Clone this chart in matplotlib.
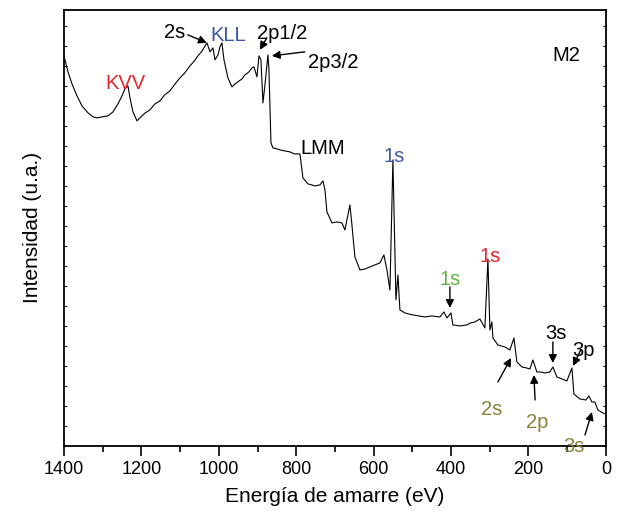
import numpy as np
import matplotlib
matplotlib.use("Agg")
import matplotlib.pyplot as plt
from matplotlib.ticker import MultipleLocator

plt.rcParams['font.family'] = ['Liberation Sans', 'DejaVu Sans']

# XPS survey spectrum M2 (binding energy in eV, intensity in arbitrary units)
energy = [1400.0, 1397.4, 1389.7, 1379.3, 1366.4, 1353.5, 1338.0, 1325.1, 1314.8, 1301.8,
          1286.3, 1273.4, 1260.5, 1250.2, 1242.4, 1234.7, 1229.5, 1221.8, 1211.4, 1198.5,
          1190.0, 1177.9, 1165.0, 1152.0, 1140.0, 1126.2, 1113.0, 1100.4, 1088.0, 1074.5,
          1063.0, 1053.9, 1045.0, 1038.4, 1030.6, 1022.9, 1015.1,
          1009.9, 1002.2, 997.0, 991.9, 986.7, 976.4, 966.1, 958.0, 950.6, 940.0, 932.5, 922.0, 914.4,
          909.2, 901.5, 896.3, 891.2, 886.0, 880.8, 873.1, 870.5, 865.3, 860.2,
          850.0, 842.1, 830.0, 816.2, 805.0, 795.6, 790.4, 782.7, 769.7, 760.0, 751.7, 738.7, 731.0, 725.8,
          720.7, 707.7, 695.0, 681.9, 674.2, 661.3, 656.1, 648.4, 635.4, 622.0, 609.6, 597.0, 583.8,
          573.4, 565.7, 557.9, 550.2, 542.4, 537.3, 532.1, 519.2, 510.0, 498.5, 483.0, 467.5, 450.0,
          428.8, 418.5, 410.7, 400.4, 395.2, 377.1, 359.1, 350.0, 338.4, 325.5, 312.6,
          304.8, 299.6, 294.5, 291.9, 279.0, 260.9, 248.0, 237.6, 229.9, 217.0,
          205.0, 196.3, 188.6, 178.3, 168.0, 157.6, 144.7, 136.9, 126.6, 113.7, 100.8, 87.8,
          82.7, 67.2, 51.7, 43.9, 36.2, 28.5, 20.7, 7.8, 0.0]
intensity = [389, 386, 374, 362, 350, 340, 333, 329, 328, 329,
             330, 334, 342, 350, 357, 360, 348, 334, 325, 330,
             333, 336, 342, 345, 351, 355, 362, 368, 373, 380,
             385, 390, 394, 398, 403, 394, 398,
             386, 391, 399, 403, 386, 368, 359, 362, 364, 367, 371, 374, 378,
             379, 369, 390, 386, 343, 361, 391, 376, 303, 298,
             297, 296, 295, 294, 292, 292, 292, 268, 262, 261, 260, 261, 265, 256,
             234, 223, 224, 223, 216, 241, 221, 189, 176, 177, 179, 181, 183,
             191, 176, 156, 286, 146, 171, 136, 133, 132, 131, 130, 129, 130,
             129, 134, 128, 133, 121, 120, 121, 123, 124, 127, 118,
             187, 116, 124, 108, 101, 99, 96, 108, 84, 79,
             78, 77, 86, 74, 74, 73, 74, 79, 69, 67, 65, 78,
             52, 47, 46, 50, 44, 44, 36, 33, 32]

# peak labels: text, x, y, colour
labels = [("KVV", 1240, 362, '#e8262d'),
          ("2s", 1113, 413, 'black'),
          ("KLL", 976, 410, '#3b56a6'),
          ("2p1/2", 837, 412, 'black'),
          ("2p3/2", 705, 383, 'black'),
          ("LMM", 731, 297, 'black'),
          ("1s", 548, 289, '#3b56a6'),
          ("1s", 403, 166, '#5db346'),
          ("1s", 300, 189, '#e8262d'),
          ("3s", 129, 112, 'black'),
          ("3p", 57, 95, 'black'),
          ("2s", 294, 36, '#85843a'),
          ("2p", 178, 23, '#85843a'),
          ("3s", 83, -1, '#85843a'),
          ("M2", 101, 390, 'black')]

# arrows: tail (x, y) -> head (x, y)
arrows = [((1080, 411), (1031, 403)),
          ((876, 408), (894, 396)),
          ((778, 394), (863, 390)),
          ((403, 159), (403, 138)),
          ((137, 104), (137, 83)),
          ((65, 96), (85, 80)),
          ((279, 64), (245, 88)),
          ((183, 46), (186, 71)),
          ((54, 11), (36, 34))]

fig = plt.figure(figsize=(6.17, 5.18), dpi=100)
ax = fig.add_axes([0.1037, 0.139, 0.8783, 0.842])

ax.plot(energy, intensity, color='black', lw=0.8)

for txt, x, y, c in labels:
    ax.text(x, y, txt, color=c, fontsize=14.5, ha='center', va='center', clip_on=False)

for tail, head in arrows:
    ax.annotate('', xy=head, xytext=tail,
                arrowprops=dict(arrowstyle='-|>', color='black', lw=1, mutation_scale=12,
                                shrinkA=0, shrinkB=0))

ax.set_xlim(1400, 0)
ax.set_ylim(0, 436)
ax.xaxis.set_major_locator(MultipleLocator(200))
ax.xaxis.set_minor_locator(MultipleLocator(100))
ax.yaxis.set_major_locator(MultipleLocator(20))
ax.tick_params(axis='x', which='major', direction='out', length=7, width=1.2, labelsize=13)
ax.tick_params(axis='x', which='minor', direction='out', length=4, width=1.2)
ax.tick_params(axis='y', which='major', direction='in', length=2, width=0.8,
               left=True, right=True, labelleft=False)
for s in ax.spines.values():
    s.set_linewidth(1.3)

ax.set_xlabel("Energía de amarre (eV)", fontsize=15, labelpad=7)
ax.set_ylabel("Intensidad (u.a.)", fontsize=15, labelpad=16)

fig.savefig("out.png", dpi=100)
